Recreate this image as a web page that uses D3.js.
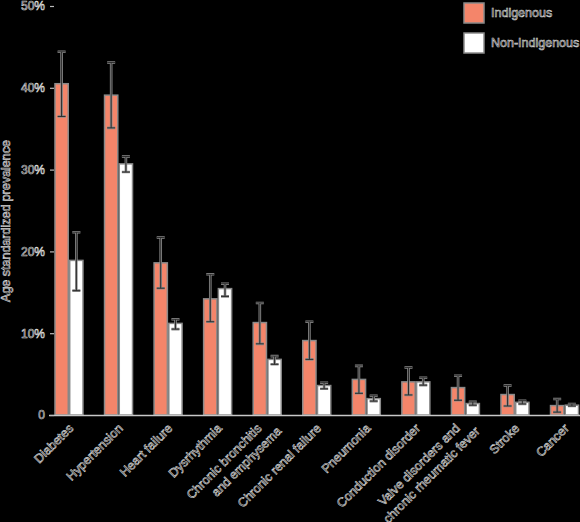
<!DOCTYPE html>
<html>
<head>
<meta charset="utf-8">
<script src="https://cdn.jsdelivr.net/npm/d3@7"></script>
<style>
  html, body { margin: 0; padding: 0; background: #000; }
  svg text { font-family: "Liberation Sans", Arial, sans-serif; fill: #000; stroke: #d8d8d8; stroke-width: 0.6px; }
</style>
</head>
<body>
<div id="chart"></div>
<script>
(function () {
    'use strict'

    // values (percent)
    var categories = ['Diabetes', 'Hypertension', 'Heart failure', 'Dysrhythmia',
        'Chronic bronchitis\nand emphysema', 'Chronic renal failure', 'Pneumonia',
        'Conduction disorder', 'Valve disorders and\nchronic rheumatic fever', 'Stroke', 'Cancer']
    var indigenous = [40.5, 39.1, 18.6, 14.2, 11.3, 9.1, 4.35, 4.05, 3.35, 2.5, 1.15]
    var indigenousLow = [36.5, 35.1, 15.5, 11.4, 8.7, 6.8, 2.65, 2.45, 1.8, 1.1, 0.35]
    var indigenousHigh = [44.4, 43.1, 21.7, 17.2, 13.7, 11.4, 6.0, 5.8, 4.8, 3.6, 1.95]
    var nonIndigenous = [18.9, 30.7, 11.2, 15.45, 6.8, 3.6, 2.0, 4.05, 1.4, 1.55, 1.2]
    var nonIndigenousLow = [15.2, 29.7, 10.5, 14.5, 6.2, 3.2, 1.7, 3.65, 1.2, 1.35, 1.1]
    var nonIndigenousHigh = [22.35, 31.6, 11.7, 16.05, 7.2, 3.95, 2.35, 4.55, 1.6, 1.75, 1.35]
    var yTicks = [0, 10, 20, 30, 40, 50]
    var seriesNames = ['Indigenous', 'Non-Indigenous']
    var seriesColors = ['#f4856a', '#ffffff']

    var width = 580,
        height = 522

    var svg = d3.select('#chart').append('svg')
        .attr('width', width)
        .attr('height', height)
        .style('background', '#000')

    var x = d3.scaleBand()
        .domain(categories)
        .range([44.2, 589.3])
        .paddingInner(0.435)
        .paddingOuter(0.2175)

    var xSub = d3.scaleBand()
        .domain(seriesNames)
        .range([0, x.bandwidth()])
        .paddingInner(0.1)

    var y = d3.scaleLinear()
        .domain([0, 50])
        .range([415, 6])

    // rows for the bars
    var rows = []
    categories.forEach(function (c, i) {
        rows.push({cat: c, s: 'Indigenous', v: indigenous[i], lo: indigenousLow[i], hi: indigenousHigh[i]})
        rows.push({cat: c, s: 'Non-Indigenous', v: nonIndigenous[i], lo: nonIndigenousLow[i], hi: nonIndigenousHigh[i]})
    })
    var color = d3.scaleOrdinal().domain(seriesNames).range(seriesColors)

    svg.append('g').selectAll('rect')
        .data(rows).enter()
        .append('rect')
        .attr('x', function (d) { return x(d.cat) + xSub(d.s) })
        .attr('y', function (d) { return y(d.v) })
        .attr('width', xSub.bandwidth())
        .attr('height', function (d) { return y(0) - y(d.v) })
        .attr('fill', function (d) { return color(d.s) })
        .attr('stroke', '#8a8a8a')
        .attr('stroke-width', 1.5)

    // error bars: light halo then dark core
    var capW = 4
    function errPath(d) {
        var cx = x(d.cat) + xSub(d.s) + xSub.bandwidth() / 2
        return 'M' + (cx - capW) + ',' + y(d.hi) + 'H' + (cx + capW) +
            'M' + cx + ',' + y(d.hi) + 'V' + y(d.lo) +
            'M' + (cx - capW) + ',' + y(d.lo) + 'H' + (cx + capW)
    }
    var err = svg.append('g')
    err.selectAll('path.halo')
        .data(rows).enter()
        .append('path')
        .attr('class', 'halo')
        .attr('d', errPath)
        .attr('fill', 'none')
        .attr('stroke', '#8c8c8c')
        .attr('stroke-width', 2.6)
    err.selectAll('path.core')
        .data(rows).enter()
        .append('path')
        .attr('class', 'core')
        .attr('d', errPath)
        .attr('fill', 'none')
        .attr('stroke', '#2a2a2a')
        .attr('stroke-width', 1)

    // x axis line
    svg.append('line')
        .attr('x1', 49).attr('x2', width)
        .attr('y1', y(0) + 0.5).attr('y2', y(0) + 0.5)
        .attr('stroke', '#c8c8c8')
        .attr('stroke-width', 1.5)

    // y axis
    var yAxis = svg.append('g')
        .attr('transform', 'translate(54,0)')
        .call(d3.axisLeft(y).tickValues(yTicks).tickSize(4).tickPadding(5)
            .tickFormat(function (d) { return d === 0 ? '0' : d + '%' }))
    yAxis.select('.domain').remove()
    yAxis.selectAll('.tick line').attr('stroke', '#bbb').attr('stroke-width', 1.2)
    yAxis.selectAll('.tick text')
        .style('font-size', '12px')
        .attr('fill', '#000')

    svg.append('text')
        .attr('transform', 'translate(10,221) rotate(-90)')
        .attr('text-anchor', 'middle')
        .style('font-size', '12.5px')
        .text('Age standardized prevalence')

    // category labels, rotated
    var labels = svg.append('g').selectAll('text')
        .data(categories).enter()
        .append('text')
        .attr('text-anchor', 'end')
        .style('font-size', '12.5px')
        .attr('transform', function (d) {
            var cx = x(d) + x.bandwidth() / 2
            return 'translate(' + (cx + 2) + ',' + 426 + ') rotate(-45)'
        })

    labels.each(function (d) {
        var parts = d.split('\n')
        var t = d3.select(this)
        if (parts.length === 1) {
            t.append('tspan').attr('x', 0).attr('y', 4.4).text(parts[0])
        } else {
            t.append('tspan').attr('x', -7).attr('y', -2.6).text(parts[0])
            t.append('tspan').attr('x', 5).attr('y', 13.4).text(parts[1])
        }
    })

    // legend
    var legend = svg.append('g').selectAll('g')
        .data(seriesNames).enter()
        .append('g')
        .attr('transform', function (d, i) { return 'translate(464,' + (3 + i * 30) + ')' })
    legend.append('rect')
        .attr('width', 20).attr('height', 20)
        .attr('fill', function (d) { return color(d) })
        .attr('stroke', '#8a8a8a')
        .attr('stroke-width', 1.5)
    legend.append('text')
        .attr('x', 27).attr('y', 10).attr('dy', '0.35em')
        .style('font-size', '12.5px')
        .text(function (d) { return d })

})()
</script>
</body>
</html>
